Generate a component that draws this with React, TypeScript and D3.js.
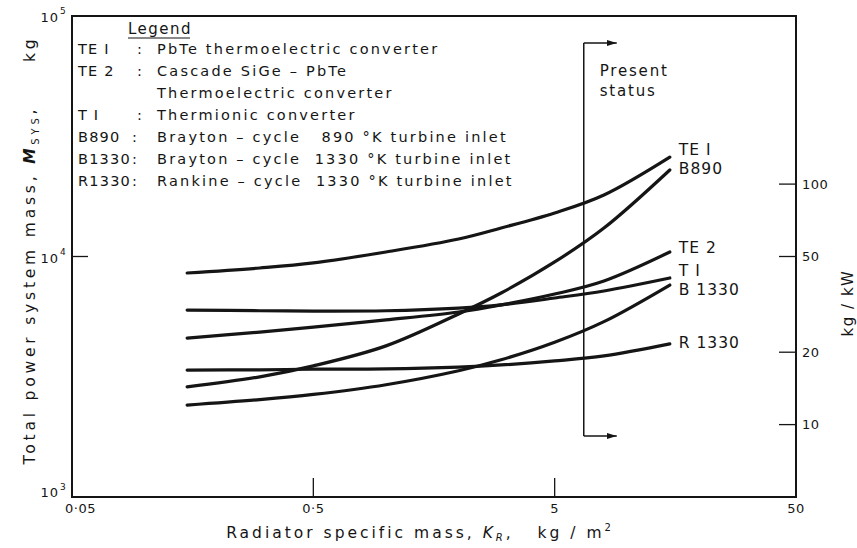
import React from 'react';
import * as d3 from 'd3';

// radiator specific mass, kg/m^2
const krValues = [0.15, 0.3, 0.5, 1, 2, 3, 5, 8, 15];

// total power system mass, kg
const te1Mass = [8540, 8960, 9400, 10440, 11820, 13130, 15170, 18020, 25900];
const b890Mass = [2870, 3160, 3510, 4250, 5770, 7050, 9490, 13130, 22900];
const te2Mass = [4580, 4850, 5090, 5450, 5880, 6290, 6980, 7910, 10440];
const tiMass = [5990, 5950, 5930, 5950, 6100, 6290, 6720, 7190, 8140];
const b1330Mass = [2410, 2540, 2670, 2930, 3350, 3720, 4400, 5360, 7610];
const r1330Mass = [3370, 3380, 3400, 3410, 3470, 3540, 3680, 3860, 4330];

const seriesLabels = ['TE I', 'B890', 'TE 2', 'T I', 'B 1330', 'R 1330'];
const seriesMasses = [te1Mass, b890Mass, te2Mass, tiMass, b1330Mass, r1330Mass];

const xTicks = [0.05, 0.5, 5, 50];
const xTickLabels = ['0·05', '0·5', '5', '50'];
const yTicks = [1e3, 1e4, 1e5];
const yTickExponents = ['3', '4', '5'];
const rightTicks = [10, 20, 50, 100];

const NB = '\u00a0';
const legendCodes = ['TE I', 'TE 2', '', 'T I', 'B890', 'B1330', 'R1330'];
const legendColons = [':', ':', '', ':', ':', ':', ':'];
const legendTexts = [
    'PbTe thermoelectric converter',
    'Cascade SiGe – PbTe',
    'Thermoelectric converter',
    'Thermionic converter',
    `Brayton – cycle${NB}${NB}${NB}890 °K turbine inlet`,
    `Brayton – cycle${NB}${NB}1330 °K turbine inlet`,
    `Rankine – cycle${NB}${NB}1330 °K turbine inlet`,
];

const NET_POWER_KW = 200; // kg/kW axis = mass / power
const PRESENT_KR = 6.6;

const WIDTH = 857;
const HEIGHT = 548;
const margin = { left: 72, right: 61, top: 16, bottom: 51 };
const FONT = '"DejaVu Sans", sans-serif';
const INK = '#151515';

// label nudges for the curve ends
const labelDy = [-2, 4, 1, -2, 10, 4];

const App: React.FC = () => {
    const x0 = margin.left;
    const x1 = WIDTH - margin.right;
    const y0 = margin.top;
    const y1 = HEIGHT - margin.bottom;

    const xScale = d3.scaleLog().domain([0.05, 50]).range([x0, x1]);
    const yScale = d3.scaleLog().domain([1e3, 1e5]).range([y1, y0]);
    const rScale = d3.scaleLog()
        .domain([1e3 / NET_POWER_KW, 1e5 / NET_POWER_KW])
        .range([y1, y0]);

    const line = d3.line<[number, number]>()
        .x(d => xScale(d[0]))
        .y(d => yScale(d[1]))
        .curve(d3.curveCatmullRom.alpha(0.5));

    const px = xScale(PRESENT_KR);
    const bracketTop = 43;
    const bracketBottom = 436;
    const arrowLen = 33;

    return (
        <svg width={WIDTH} height={HEIGHT} style={{ position: 'absolute', left: 0, top: 0, background: '#fff' }}
            fontFamily={FONT} fill={INK}>
            <defs>
                <marker id="arr" viewBox="0 0 10 6" refX="10" refY="3" markerWidth="10" markerHeight="6"
                    markerUnits="userSpaceOnUse" orient="auto">
                    <path d="M0,0 L10,3 L0,6 Z" fill={INK} />
                </marker>
            </defs>
            <rect x={0} y={0} width={WIDTH} height={HEIGHT} fill="#fff" />

            {/* frame */}
            <rect x={x0} y={y0} width={x1 - x0} height={y1 - y0} fill="none" stroke={INK} strokeWidth={2} />

            {/* x ticks */}
            {xTicks.map((t, i) => (
                <g key={'xt' + i}>
                    {i > 0 && i < xTicks.length - 1 && (
                        <line x1={xScale(t)} x2={xScale(t)} y1={y1} y2={y1 - 19} stroke={INK} strokeWidth={1.3} />
                    )}
                    <text x={i === 0 ? xScale(t) - 7 : xScale(t)} y={y1 + 16}
                        textAnchor={i === 0 ? 'start' : 'middle'} fontSize={13} letterSpacing={0.5}>
                        {xTickLabels[i]}
                    </text>
                </g>
            ))}

            {/* left y ticks */}
            {yTicks.map((t, i) => (
                <g key={'yt' + i}>
                    {i > 0 && i < yTicks.length - 1 && (
                        <line x1={x0} x2={x0 + 16} y1={yScale(t)} y2={yScale(t)} stroke={INK} strokeWidth={1.3} />
                    )}
                    <text x={59} y={yScale(t) + (i === 0 ? 0 : 6)} textAnchor="end" fontSize={13} letterSpacing={1}>10</text>
                    <text x={60} y={yScale(t) + (i === 0 ? -7 : -2)} fontSize={9}>{yTickExponents[i]}</text>
                </g>
            ))}

            {/* right kg/kW ticks */}
            {rightTicks.map(t => (
                <g key={'rt' + t}>
                    <line x1={x1 - 17} x2={x1} y1={rScale(t)} y2={rScale(t)} stroke={INK} strokeWidth={1.3} />
                    <text x={x1 + 6} y={rScale(t)} dominantBaseline="central" fontSize={13} letterSpacing={0.5}>{t}</text>
                </g>
            ))}

            {/* curves */}
            {seriesMasses.map((m, i) => (
                <path key={'c' + i} d={line(krValues.map((k, j) => [k, m[j]]) as [number, number][]) || ''}
                    fill="none" stroke={INK} strokeWidth={3.2} strokeLinecap="round" />
            ))}
            {seriesMasses.map((m, i) => (
                <text key={'cl' + i} x={xScale(krValues[krValues.length - 1]) + 9}
                    y={yScale(m[m.length - 1]) + labelDy[i]} fontSize={15.5} letterSpacing={1}>
                    {seriesLabels[i]}
                </text>
            ))}

            {/* present status bracket */}
            <line x1={px} x2={px} y1={bracketTop} y2={bracketBottom} stroke={INK} strokeWidth={1.5} />
            <line x1={px} x2={px + arrowLen} y1={bracketTop} y2={bracketTop} stroke={INK} strokeWidth={1.5} markerEnd="url(#arr)" />
            <line x1={px} x2={px + arrowLen} y1={bracketBottom} y2={bracketBottom} stroke={INK} strokeWidth={1.5} markerEnd="url(#arr)" />
            <text x={px + 16} y={76} fontSize={15} letterSpacing={1.8}>Present</text>
            <text x={px + 16} y={96} fontSize={15} letterSpacing={1.8}>status</text>

            {/* legend */}
            <text x={128} y={34} fontSize={15} letterSpacing={1.5}>Legend</text>
            <line x1={128} x2={190} y1={38} y2={38} stroke={INK} strokeWidth={1.2} />
            {legendTexts.map((t, i) => (
                <g key={'lg' + i} fontSize={14.5}>
                    <text x={78} y={54 + i * 22} letterSpacing={1.2}>{legendCodes[i]}</text>
                    <text x={i >= 4 ? 132 : 137} y={54 + i * 22}>{legendColons[i]}</text>
                    <text x={157} y={54 + i * 22} letterSpacing={2.2}>{t}</text>
                </g>
            ))}

            {/* axis titles */}
            <text x={420} y={538} textAnchor="middle" fontSize={15.5} letterSpacing={3}>
                {`Radiator specific mass,${NB}`}
                <tspan fontStyle="italic">K</tspan>
                <tspan fontStyle="italic" fontSize={10} dy={3}>R</tspan>
                <tspan dy={-3}>{`,${NB}${NB}${NB}kg${NB}/${NB}m`}</tspan>
                <tspan fontSize={10} dy={-7}>2</tspan>
            </text>
            <text transform="translate(35,250) rotate(-90)" textAnchor="middle" fontSize={15.5} letterSpacing={3.8}>
                {`Total power system mass,${NB}`}
                <tspan fontStyle="italic" fontWeight="bold">M</tspan>
                <tspan fontSize={10} dy={4}>SYS</tspan>
                <tspan dy={-4}>{`,${NB}${NB}${NB}${NB}${NB}kg`}</tspan>
            </text>
            <text transform="translate(853,303) rotate(-90)" textAnchor="middle" fontSize={15} letterSpacing={1.5}>
                {'kg / kW'}
            </text>
        </svg>
    );
};

export default App;
